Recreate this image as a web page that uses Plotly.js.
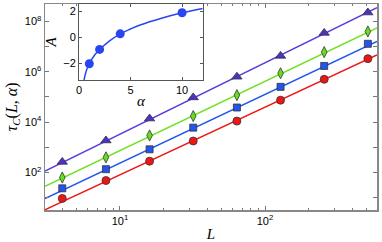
<!DOCTYPE html>
<html><head><meta charset="utf-8">
<script src="https://cdn.plot.ly/plotly-3.0.1.min.js"></script>
<style>html,body{margin:0;padding:0;background:#fff}#c{width:382px;height:242px}</style>
</head><body><div id="c"></div>
<script>
// main data
const L = [4, 8, 16, 32, 64, 128, 256, 512];
const tauTri = [10**2.42, 10**3.27, 10**4.14, 10**4.98, 10**5.80, 10**6.63, 10**7.54, 10**8.35];
const tauDia = [10**1.80, 10**2.60, 10**3.47, 10**4.24, 10**5.07, 10**5.94, 10**6.78, 10**7.60];
const tauSq  = [10**1.37, 10**2.13, 10**2.92, 10**3.78, 10**4.58, 10**5.40, 10**6.23, 10**7.11];
const tauCir = [10**0.97, 10**1.68, 10**2.45, 10**3.25, 10**4.04, 10**4.87, 10**5.70, 10**6.52];
// fitted lines (end points)
const fitL = [3.04, 592];
const fitTri = [10**2.06, 10**8.54];
const fitDia = [10**1.45, 10**7.74];
const fitSq  = [10**0.96, 10**7.20];
const fitCir = [10**0.52, 10**6.67];
// inset data
const alpha = [1, 2, 4, 10];
const Aval = [-2.05, -0.95, 0.25, 1.87];
const curveAlpha = [0.49, 0.7, 1, 1.5, 2, 3, 4, 5, 6, 8, 10, 12];
const curveA = [-3.3, -2.6, -2.05, -1.4, -0.95, -0.27, 0.25, 0.62, 0.95, 1.45, 1.87, 2.2];
const xTickVals = [10, 100];
const xTickText = ['10<sup>1</sup>', '10<sup>2</sup>'];
const xMinorVals = [4,5,6,7,8,9,20,30,40,50,60,70,80,90,200,300,400,500];
const yTickVals = [1e2, 1e4, 1e6, 1e8];
const yTickText = ['10<sup>2</sup>', '10<sup>4</sup>', '10<sup>6</sup>', '10<sup>8</sup>'];
const yMinorVals = [1e1, 1e3, 1e5, 1e7];

const cPur = '#5b3ddb', cGrn = '#70e020', cBlu = '#2255ee', cRed = '#ee1515', cIn = '#2a45f0';
const edge = {color: '#333', width: 0.8};
function line(y, c) { return {x: fitL, y: y, mode: 'lines', line: {color: c, width: 1.5}, showlegend: false, hoverinfo: 'skip'}; }
function pts(y, c, sym, sz) { return {x: L, y: y, mode: 'markers', marker: {color: c, symbol: sym, size: sz, line: edge}, showlegend: false}; }

const data = [
  line(fitTri, cPur), line(fitDia, cGrn), line(fitSq, cBlu), line(fitCir, cRed),
  pts(tauTri, '#5030c8', 'triangle-up', 9),
  pts(tauDia, '#66dd22', 'diamond-tall', 8),
  pts(tauSq, cBlu, 'square', 7),
  pts(tauCir, cRed, 'circle', 8),
  {x: curveAlpha, y: curveA, mode: 'lines', line: {color: cIn, width: 1.5, shape: 'spline'}, xaxis: 'x2', yaxis: 'y2', showlegend: false},
  {x: alpha, y: Aval, mode: 'markers', marker: {color: cIn, size: 9}, xaxis: 'x2', yaxis: 'y2', showlegend: false}
];
const tickFont = {family: 'Liberation Sans, Arial, sans-serif', size: 11, color: '#000'};
const titleFont = {family: 'Liberation Serif, serif', size: 15, color: '#000'};
const minorCfg = {ticks: 'inside', ticklen: 2, tickcolor: '#777', showgrid: false};
const layout = {
  width: 382, height: 242,
  margin: {l: 45, r: 5, t: 4, b: 32},
  paper_bgcolor: '#fff', plot_bgcolor: '#fff',
  xaxis: {type: 'log', range: [Math.log10(3.04), Math.log10(592)], tickvals: xTickVals, ticktext: xTickText,
    ticks: 'inside', ticklen: 4, tickcolor: '#777', showline: true, linecolor: '#888', linewidth: 1.5, mirror: 'ticks',
    showgrid: false, zeroline: false, tickfont: tickFont,
    minor: Object.assign({tickvals: xMinorVals}, minorCfg),
    title: {text: '<i>L</i>', font: titleFont, standoff: 3}},
  yaxis: {type: 'log', range: [0.51, 8.69], tickvals: yTickVals, ticktext: yTickText,
    ticks: 'inside', ticklen: 4, tickcolor: '#777', showline: true, linecolor: '#888', linewidth: 1.5, mirror: 'ticks',
    showgrid: false, zeroline: false, tickfont: tickFont,
    minor: Object.assign({tickvals: yMinorVals}, minorCfg, {ticklen: 4}),
    title: {text: '<i>τ</i><sub><i>C</i></sub>(<i>L</i>, <i>α</i>)', font: {family: 'Liberation Serif, serif', size: 16, color: '#000'}, standoff: 3}},
  xaxis2: {domain: [0.1024, 0.475], anchor: 'y2', range: [0, 12], tickvals: [0, 5, 10],
    ticks: 'inside', ticklen: 3, tickcolor: '#555', showline: true, linecolor: '#555', linewidth: 1, mirror: 'ticks',
    showgrid: false, zeroline: false, tickfont: tickFont,
    title: {text: '<i>α</i>', font: titleFont, standoff: 0}},
  yaxis2: {domain: [0.631, 1.0], anchor: 'x2', range: [-3.3, 2.54], tickvals: [-2, 0, 2], ticktext: ['−2', '0', '2'],
    ticks: 'inside', ticklen: 3, tickcolor: '#555', showline: true, linecolor: '#555', linewidth: 1, mirror: 'ticks',
    showgrid: false, zeroline: false, tickfont: tickFont,
    title: {text: '<i>A</i>', font: titleFont, standoff: 2}}
};
Plotly.newPlot('c', data, layout, {displayModeBar: false, staticPlot: true});
</script></body></html>
